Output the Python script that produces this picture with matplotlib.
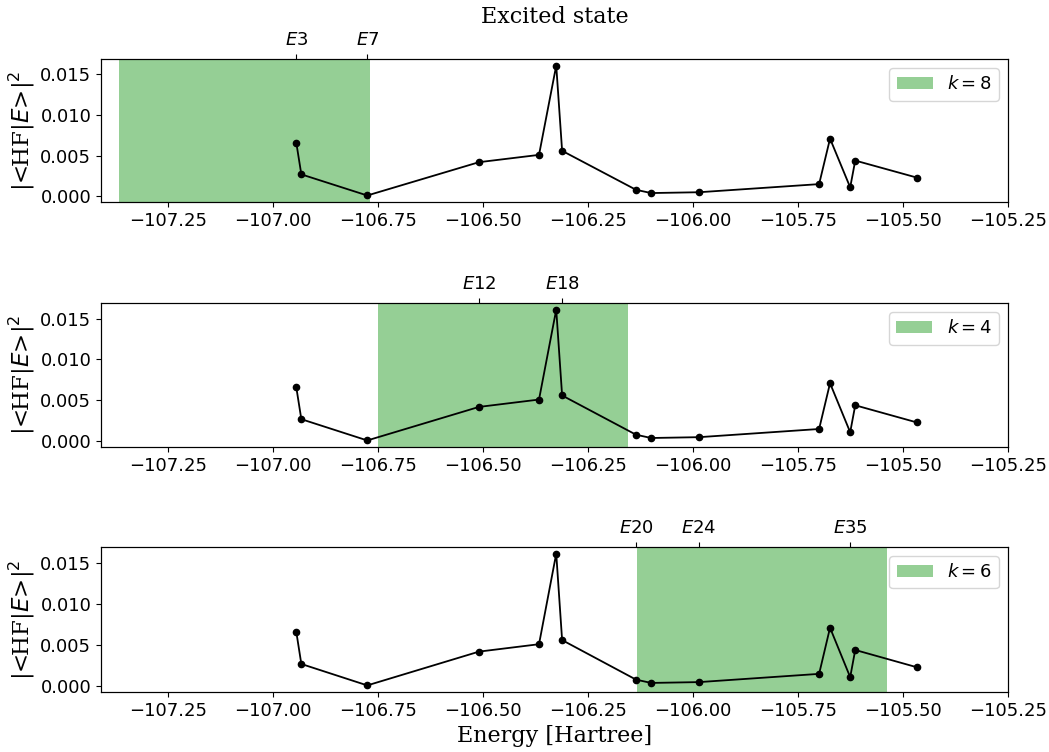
import numpy as np
import matplotlib.pyplot as plt

# energies [Hartree] and overlaps |<HF|E>|^2
energia = [-106.945, -106.933, -106.776, -106.510, -106.367, -106.326, -106.312,
           -106.136, -106.100, -105.986, -105.700, -105.674, -105.626, -105.614, -105.467]
overlap = [0.0066, 0.0027, 0.0001, 0.0042, 0.0051, 0.0161, 0.0056,
           0.0008, 0.0004, 0.0005, 0.0015, 0.0071, 0.0011, 0.0044, 0.0023]

# windows for each k
k_vals = [8, 4, 6]
ventanas = [(-107.367, -106.769), (-106.750, -106.155), (-106.133, -105.538)]
# labelled eigenvalues on top axis
etiq_pos = [[-106.945, -106.776], [-106.510, -106.312], [-106.136, -105.986, -105.626]]
etiq_txt = [['$E3$', '$E7$'], ['$E12$', '$E18$'], ['$E20$', '$E24$', '$E35$']]

fig = plt.figure(figsize=(10.49, 7.52), dpi=100)
cajas = [(0.0963, 0.7314, 0.8647, 0.1901),
         (0.0963, 0.4056, 0.8647, 0.1914),
         (0.0963, 0.0798, 0.8647, 0.1928)]

for i in range(3):
    ax = fig.add_axes(cajas[i])
    ax.axvspan(ventanas[i][0], ventanas[i][1], color='tab:green', alpha=0.5,
               lw=0, label='$k=%d$' % k_vals[i])
    ax.plot(energia, overlap, 'k-o', markersize=4.5, lw=1.3)
    ax.set_xlim(-107.41, -105.25)
    ax.set_xticks([-107.25, -107.0, -106.75, -106.5, -106.25, -106.0, -105.75, -105.5, -105.25])
    ax.set_yticks([0, 0.005, 0.01, 0.015])
    ax.tick_params(labelsize=13)
    ax.set_ylabel(r'|<HF|$E$>|$^2$', fontsize=16.5, family='serif', labelpad=2)
    ax.legend(loc='upper right', fontsize=13, handlelength=2.0)
    ax2 = ax.twiny()
    ax2.set_xlim(ax.get_xlim())
    ax2.set_xticks(etiq_pos[i])
    ax2.set_xticklabels(etiq_txt[i], fontsize=13)
    if i == 0:
        ax.set_title('Excited state', family='serif', fontsize=16, pad=26)
    if i == 2:
        ax.set_xlabel('Energy [Hartree]', family='serif', fontsize=16)

plt.savefig('out.png', dpi=100)
